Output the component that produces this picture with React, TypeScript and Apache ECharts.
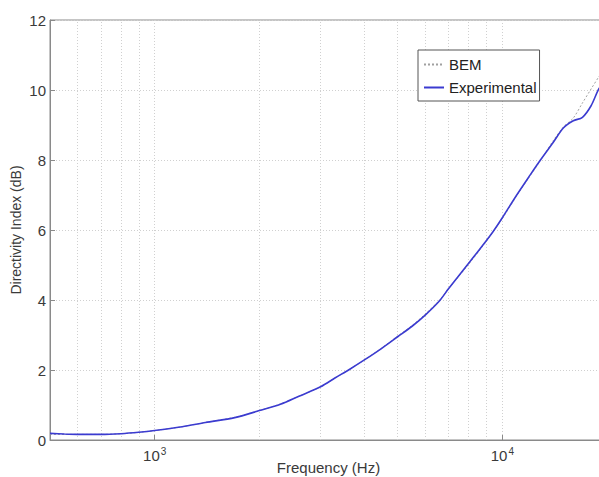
import React, { useEffect, useRef } from "react";
import * as echarts from "echarts";

// Frequency (Hz) and directivity index (dB)
const expFreqs = [500, 550, 600, 700, 800, 900, 1000, 1200, 1400, 1700, 2000, 2300, 2600, 3000, 3300, 3650, 4000, 4500, 5000, 5500, 6000, 6600, 7000, 8000, 9000, 9400, 10000, 11000, 12000, 12870, 14000, 15000, 16000, 17000, 18000, 19000, 20000];
const expValues = [0.19, 0.17, 0.16, 0.16, 0.18, 0.22, 0.27, 0.38, 0.5, 0.64, 0.84, 1.02, 1.25, 1.52, 1.77, 2.03, 2.28, 2.62, 2.95, 3.25, 3.57, 3.98, 4.32, 5.05, 5.7, 5.95, 6.35, 7.0, 7.56, 8.0, 8.5, 8.92, 9.12, 9.22, 9.55, 10.05, 10.3];

const bemFreqs = [500, 600, 700, 800, 900, 1000, 1200, 1400, 1700, 2000, 2300, 2600, 3000, 3300, 3650, 4000, 4500, 5000, 5500, 6000, 6600, 7000, 8000, 9000, 10000, 11000, 12000, 13000, 14000, 15000, 16000, 17000, 18000, 19000, 20000];
const bemValues = [0.16, 0.16, 0.16, 0.18, 0.22, 0.27, 0.38, 0.5, 0.65, 0.84, 1.03, 1.25, 1.52, 1.77, 2.03, 2.28, 2.63, 2.97, 3.27, 3.6, 4.0, 4.32, 5.02, 5.68, 6.33, 6.98, 7.54, 8.05, 8.55, 8.95, 9.2, 9.63, 10.03, 10.4, 10.77];

const minorGridFreqs = [600, 700, 800, 900, 2000, 3000, 4000, 5000, 6000, 7000, 8000, 9000];
const xMin = 500;
const xMax = 20000;
const yMin = 0;
const yMax = 12;
const yInterval = 2;

const TEXT = "#3a3a3a";
const GRID = "#d0d0d0";
const AXIS = "#8a8a8a";
const FONT = "'Liberation Sans', Arial, Helvetica, sans-serif";

export default function App() {
  const ref = useRef<HTMLDivElement>(null);
  useEffect(() => {
    if (!ref.current) return;
    const chart = echarts.init(ref.current, undefined, { renderer: "svg" });
    const expData = expFreqs.map((f, i) => [f, expValues[i]]);
    const bemData = bemFreqs.map((f, i) => [f, bemValues[i]]);
    chart.setOption({
      animation: false,
      backgroundColor: "#ffffff",
      textStyle: { fontFamily: FONT },
      grid: {
        left: 50,
        top: 20,
        right: -8,
        bottom: 37,
        containLabel: false,
        outerBoundsMode: "none",
        show: true,
        borderColor: AXIS,
        borderWidth: 1,
        backgroundColor: "transparent",
      },
      legend: {
        orient: "vertical",
        left: 418,
        top: 50,
        backgroundColor: "#ffffff",
        borderColor: "#555555",
        borderWidth: 1,
        borderRadius: 0,
        padding: [7, 3, 6, 5],
        itemWidth: 20,
        itemHeight: 15,
        itemGap: 8,
        itemStyle: { opacity: 0 },
        textStyle: { fontSize: 15, color: "#222", fontFamily: FONT },
        data: ["BEM", "Experimental"],
      },
      xAxis: {
        type: "log",
        logBase: 10,
        min: xMin,
        max: xMax,
        name: "Frequency (Hz)",
        nameLocation: "middle",
        nameGap: 20,
        nameMoveOverlap: false,
        nameTextStyle: { fontSize: 15, color: TEXT, fontFamily: FONT },
        axisLine: { show: true, lineStyle: { color: AXIS, width: 1 } },
        axisTick: { show: true, inside: true, length: 5, lineStyle: { color: AXIS } },
        splitLine: { show: true, lineStyle: { color: GRID, type: [1, 2], width: 1 } },
        axisLabel: {
          margin: 6,
          showMinLabel: false,
          showMaxLabel: false,
          color: TEXT,
          formatter: (v: number) => {
            const e = Math.log10(v);
            if (Math.abs(e - Math.round(e)) < 1e-6 && v > xMin * 1.01 && v < xMax * 0.99) {
              return "{b|10}{s|" + Math.round(e) + "}";
            }
            return "";
          },
          rich: {
            b: { fontSize: 15, color: TEXT, fontFamily: FONT, lineHeight: 18 },
            s: { fontSize: 10, color: TEXT, fontFamily: FONT, verticalAlign: "top", lineHeight: 18, padding: [0, 0, 8, 1] },
          },
        },
      },
      yAxis: {
        type: "value",
        min: yMin,
        max: yMax,
        interval: yInterval,
        name: "Directivity Index (dB)",
        nameLocation: "middle",
        nameGap: 27,
        nameMoveOverlap: false,
        nameTextStyle: { fontSize: 14, color: TEXT, fontFamily: FONT },
        axisLine: { show: true, lineStyle: { color: AXIS, width: 1 } },
        axisTick: { show: true, inside: true, length: 5, lineStyle: { color: AXIS } },
        splitLine: { show: true, lineStyle: { color: GRID, type: [1, 2], width: 1 } },
        axisLabel: { fontSize: 15, color: TEXT, margin: 4, fontFamily: FONT },
      },
      series: [
        {
          name: "BEM",
          type: "line",
          data: bemData,
          symbol: "none",
          smooth: 0.3,
          lineStyle: { color: "#a0a0a0", width: 1, type: [2, 2] },
          itemStyle: { color: "#a0a0a0" },
          z: 2,
          markLine: {
            silent: true,
            symbol: "none",
            label: { show: false },
            lineStyle: { color: GRID, type: [1, 2], width: 1 },
            data: minorGridFreqs.map((f) => ({ xAxis: f })),
            z: 1,
          },
        },
        {
          name: "Experimental",
          type: "line",
          data: expData,
          symbol: "none",
          smooth: 0.3,
          lineStyle: { color: "#3b3bd0", width: 1.6 },
          itemStyle: { color: "#3b3bd0" },
          z: 3,
        },
      ],
    });
    return () => chart.dispose();
  }, []);
  return (
    <div
      ref={ref}
      style={{ position: "absolute", left: 0, top: 0, width: 599, height: 477 }}
    />
  );
}
